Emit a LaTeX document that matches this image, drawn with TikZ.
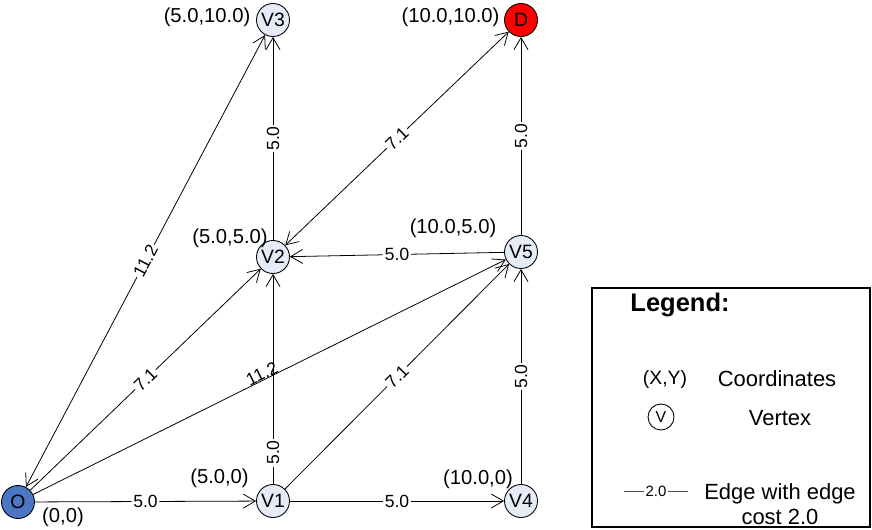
\documentclass[tikz,border=0pt]{standalone}
\usepackage{fontspec}
\setmainfont{Liberation Sans}
\usepackage{xcolor}
\usetikzlibrary{arrows.meta, positioning}
\definecolor{orgfill}{HTML}{4A76C4}
\definecolor{vtxfill}{HTML}{E6ECF7}
\definecolor{dstfill}{HTML}{FF0000}
\tikzset{
  vtx/.style={circle, draw=black, line width=0.5pt, fill=vtxfill, minimum size=0.66cm, inner sep=0pt, font=\fontsize{11}{13}\selectfont},
  org/.style={vtx, fill=orgfill},
  dst/.style={vtx, fill=dstfill},
  crd/.style={font=\fontsize{11.5}{13}\selectfont, inner sep=1pt},
  cost/.style={font=\fontsize{10}{12}\selectfont, fill=white, inner sep=1pt, sloped},
  arr/.style={-{Straight Barb[length=2.4mm, width=2.8mm]}, line width=0.45pt, draw=black},
  biarr/.style={arr, {Straight Barb[length=2.4mm, width=2.8mm]}-{Straight Barb[length=2.4mm, width=2.8mm]}},
  lgd/.style={font=\fontsize{12.5}{14.2}\selectfont, align=center},
}
\begin{document}
\begin{tikzpicture}
  \useasboundingbox (0,0) rectangle (17.44,10.58);
  % vertices
  \node[org] (o)  at (0.36,0.54)   {O};
  \node[vtx] (v1) at (5.46,0.56)   {V1};
  \node[vtx] (v4) at (10.42,0.56)  {V4};
  \node[vtx] (v2) at (5.46,5.44)   {V2};
  \node[vtx] (v5) at (10.42,5.54)  {V5};
  \node[vtx] (v3) at (5.46,10.18)  {V3};
  \node[dst] (d)  at (10.42,10.18) {D};
  % coordinates
  \node[crd] (co)  at (1.26,0.24)  {(0,0)};
  \node[crd] (cv1) at (4.39,1.02)  {(5.0,0)};
  \node[crd] (cv4) at (9.56,1.0)   {(10.0,0)};
  \node[crd] (cv2) at (4.6,5.82)   {(5.0,5.0)};
  \node[crd] (cv5) at (9.06,6.02)  {(10.0,5.0)};
  \node[crd] (cv3) at (4.14,10.24) {(5.0,10.0)};
  \node[crd] (cd)  at (9.01,10.24) {(10.0,10.0)};
  % edges
  \draw[arr] (o) -- node[cost]{5.0} (v1);
  \draw[arr] (v1) -- node[cost]{5.0} (v4);
  \draw[arr] (v1) -- node[cost, pos=0.15]{5.0} (v2);
  \draw[arr] (v4) -- node[cost]{5.0} (v5);
  \draw[arr] (v5) -- node[cost]{5.0} (d);
  \draw[arr] (v2) -- node[cost]{5.0} (v3);
  \draw[arr] (v5) -- node[cost]{5.0} (v2);
  \draw[arr] (o) -- node[cost]{7.1} (v2);
  \draw[arr] (v1) -- node[cost]{7.1} (v5);
  \draw[biarr] (v2) -- node[cost]{7.1} (d);
  \draw[biarr] (o) -- node[cost]{11.2} (v3);
  \draw[arr] (o) -- node[cost, fill=none, above, pos=0.49, yshift=-1pt]{11.2} (v5);
  % legend
  \node[draw=black, line width=0.6pt, minimum width=5.56cm, minimum height=4.78cm] (lgdbox) at (14.62,2.43) {};
  \node[font=\fontsize{14.5}{16}\selectfont\bfseries] (lgdtitle) at (13.6,4.48) {Legend:};
  \node[crd, font=\fontsize{11}{13}\selectfont] (lgdxy) at (13.3,3.0) {(X,Y)};
  \node[lgd] (lgdcrd) at (15.54,3.0) {Coordinates};
  \node[vtx, fill=white, minimum size=0.52cm, font=\fontsize{9}{11}\selectfont] (lgdv) at (13.22,2.24) {V};
  \node[lgd] (lgdvtx) at (15.6,2.22) {Vertex};
  \coordinate (lgdea) at (12.48,0.76);
  \coordinate (lgdeb) at (13.76,0.76);
  \draw[line width=0.45pt, draw=black!70] (lgdea) -- node[fill=white, inner sep=1pt, font=\fontsize{8.5}{10}\selectfont]{2.0} (lgdeb);
  \node[lgd] (lgdedge) at (15.6,0.5) {Edge with edge\\cost 2.0};
\end{tikzpicture}
\end{document}
